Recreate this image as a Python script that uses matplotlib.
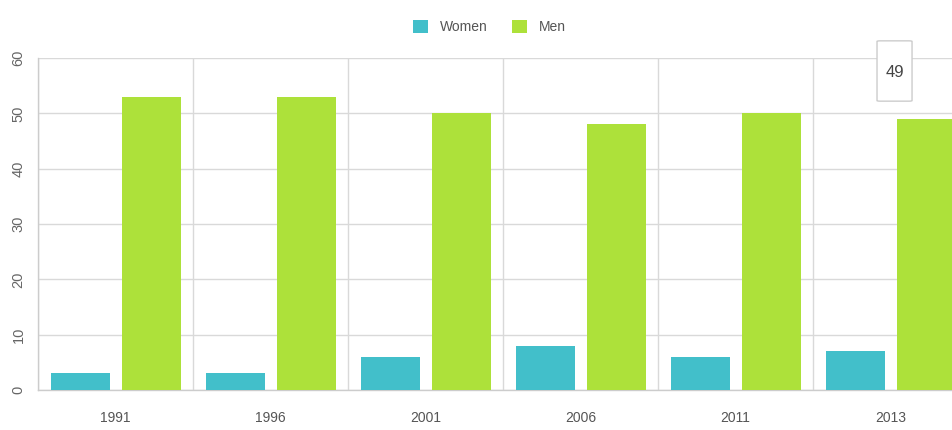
import matplotlib
matplotlib.use("Agg")
import matplotlib.pyplot as plt
import numpy as np
from matplotlib.patches import Patch, FancyBboxPatch

plt.rcParams['font.family'] = ['Liberation Sans Narrow', 'Liberation Sans', 'DejaVu Sans']

# Data
years = ['1991', '1996', '2001', '2006', '2011', '2013']
women = [3, 3, 6, 8, 6, 7]
men = [53, 53, 50, 48, 50, 49]
y_ticks = [0, 10, 20, 30, 40, 50, 60]
tooltip_value = men[-1]

women_color = '#42BFCA'
men_color = '#ADE13A'
grid_color = '#D9D9D9'
text_color = '#666666'

fig = plt.figure(figsize=(9.52, 4.30), dpi=100)
ax = fig.add_axes([38 / 952, 40 / 430, 930 / 952, 332 / 430])

x = np.arange(len(years))
bar_w = 0.38
ax.bar(x - 0.226, women, width=bar_w, color=women_color, zorder=3)
ax.bar(x + 0.230, men, width=bar_w, color=men_color, zorder=3)

ax.set_xlim(-0.5, len(years) - 0.5)
ax.set_ylim(0, 60)

# grid
ax.set_yticks(y_ticks)
ax.set_yticklabels([str(t) for t in y_ticks], rotation=90, va='center',
                   fontsize=10.5, color=text_color)
ax.set_xticks(x)
ax.set_xticklabels(years, fontsize=10, color='#555555')
ax.set_xticks(np.arange(-0.5, len(years), 1.0), minor=True)
ax.grid(axis='y', which='major', color=grid_color, linewidth=1, zorder=0)
ax.grid(axis='x', which='minor', color=grid_color, linewidth=1, zorder=0)
ax.tick_params(axis='both', which='both', length=0)
ax.tick_params(axis='y', pad=9)
ax.tick_params(axis='x', pad=15)

for side in ['top', 'right']:
    ax.spines[side].set_visible(False)
for side in ['left', 'bottom']:
    ax.spines[side].set_color('#CCCCCC')
    ax.spines[side].set_linewidth(1)

# legend
handles = [Patch(facecolor=women_color, label='Women'),
           Patch(facecolor=men_color, label='Men')]
leg = fig.legend(handles=handles, loc='center', bbox_to_anchor=(0.514, 0.937),
                 ncol=2, frameon=False, fontsize=10, handlelength=1.1,
                 handleheight=1.1, handletextpad=0.8, columnspacing=1.8)
for t in leg.get_texts():
    t.set_color('#555555')

# tooltip
box = FancyBboxPatch((4.913, 52.2), 0.226, 10.9,
                     boxstyle='round,pad=0,rounding_size=0.02',
                     facecolor='white', edgecolor='#CCCCCC', linewidth=1,
                     clip_on=False, zorder=5, mutation_aspect=5)
ax.add_patch(box)
ax.text(5.026, 57.4, str(tooltip_value), ha='center', va='center',
        fontsize=12, color='#444444', zorder=6, clip_on=False)

fig.savefig('out.png', dpi=100)
